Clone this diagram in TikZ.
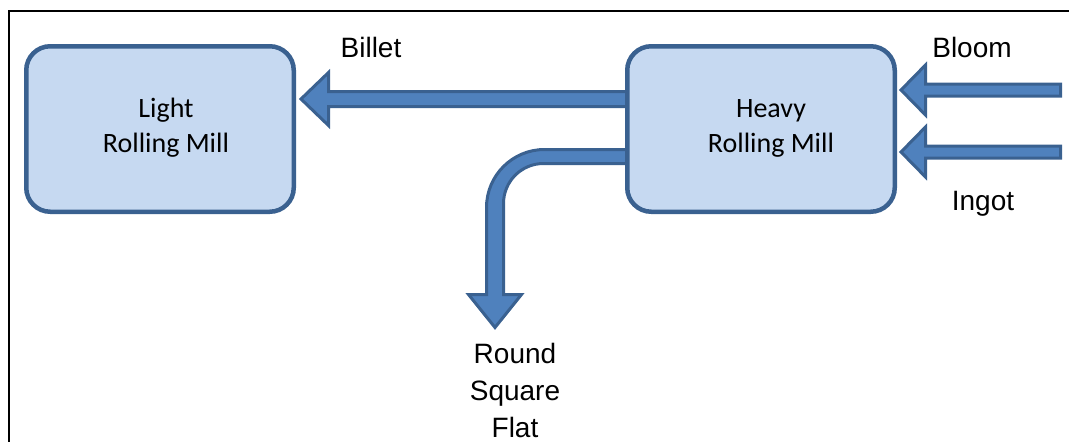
\documentclass[tikz,border=0pt]{standalone}
\usepackage{fontspec}
\setmainfont{Liberation Sans}
\newfontfamily\millfont{Carlito}
\usetikzlibrary{backgrounds}
\definecolor{millfill}{HTML}{C6D9F1}
\definecolor{millline}{HTML}{3A6190}
\definecolor{flowfill}{HTML}{4F81BD}
\definecolor{flowline}{HTML}{3A6190}

\begin{document}
\begin{tikzpicture}[x=1pt,y=-1pt,
  mill/.style={draw=millline, line width=4.5pt, fill=millfill, rounded corners=24pt,
    minimum width=267.5pt, minimum height=165.5pt, inner sep=0pt},
  milltext/.style={font=\millfont\fontsize{28}{35}\selectfont, align=center, inner sep=0pt},
  flow/.style={draw=flowline, fill=flowfill, line width=3pt, line join=miter},
  tag/.style={font=\fontsize{28}{37}\selectfont, inner sep=0pt, align=center}
]
\useasboundingbox (0,0) rectangle (1069,442);

% frame
\draw[line width=2.8pt] (9,442) -- (9,11) -- (1069,11);

% mills
\node[mill] (light) at (160,129) {};
\node[mill] (heavy) at (761,129) {};
\node[milltext] (lightlabel) at ([xshift=6pt,yshift=1pt]light.center) {Light\\Rolling Mill};
\node[milltext] (heavylabel) at ([xshift=10pt,yshift=1pt]heavy.center) {Heavy\\Rolling Mill};

% flow labels
\node[tag, anchor=base] (billet) at (371,57) {Billet};
\node[tag, anchor=base] (bloom) at (972,57) {Bloom};
\node[tag, anchor=base] (ingot) at (983,210) {Ingot};
\node[tag] (products) at (515,390) {Round\\Square\\Flat};

% block arrows, behind the mills
\coordinate (billettip) at ([xshift=5pt,yshift=30pt]light.east);
\coordinate (bloomtip) at ([xshift=4pt,yshift=39pt]heavy.east);
\coordinate (ingottip) at ([xshift=4pt,yshift=-23pt]heavy.east);
\begin{scope}[on background layer]
  \draw[flow] (billettip) -- ++(27.5,-26.5) -- ++(0,19) -- ++(315,0) -- ++(0,15)
    -- ++(-315,0) -- ++(0,19) -- cycle;
  \draw[flow] (bloomtip) -- ++(24.5,-25) -- ++(0,19) -- ++(135,0) -- ++(0,12)
    -- ++(-135,0) -- ++(0,19) -- cycle;
  \draw[flow] (ingottip) -- ++(24.5,-25) -- ++(0,19) -- ++(135,0) -- ++(0,12)
    -- ++(-135,0) -- ++(0,19) -- cycle;
  \draw[flow] (640,149.5) -- (544.5,149.5) arc[start angle=-90, end angle=-180, radius=58]
    -- (486.5,294.5) -- (468.5,294.5) -- (495,327.5) -- (521.5,294.5) -- (503.5,294.5)
    -- (503.5,203.5) arc[start angle=180, end angle=270, radius=40]
    -- (640,163.5) -- cycle;
\end{scope}
\end{tikzpicture}
\end{document}
